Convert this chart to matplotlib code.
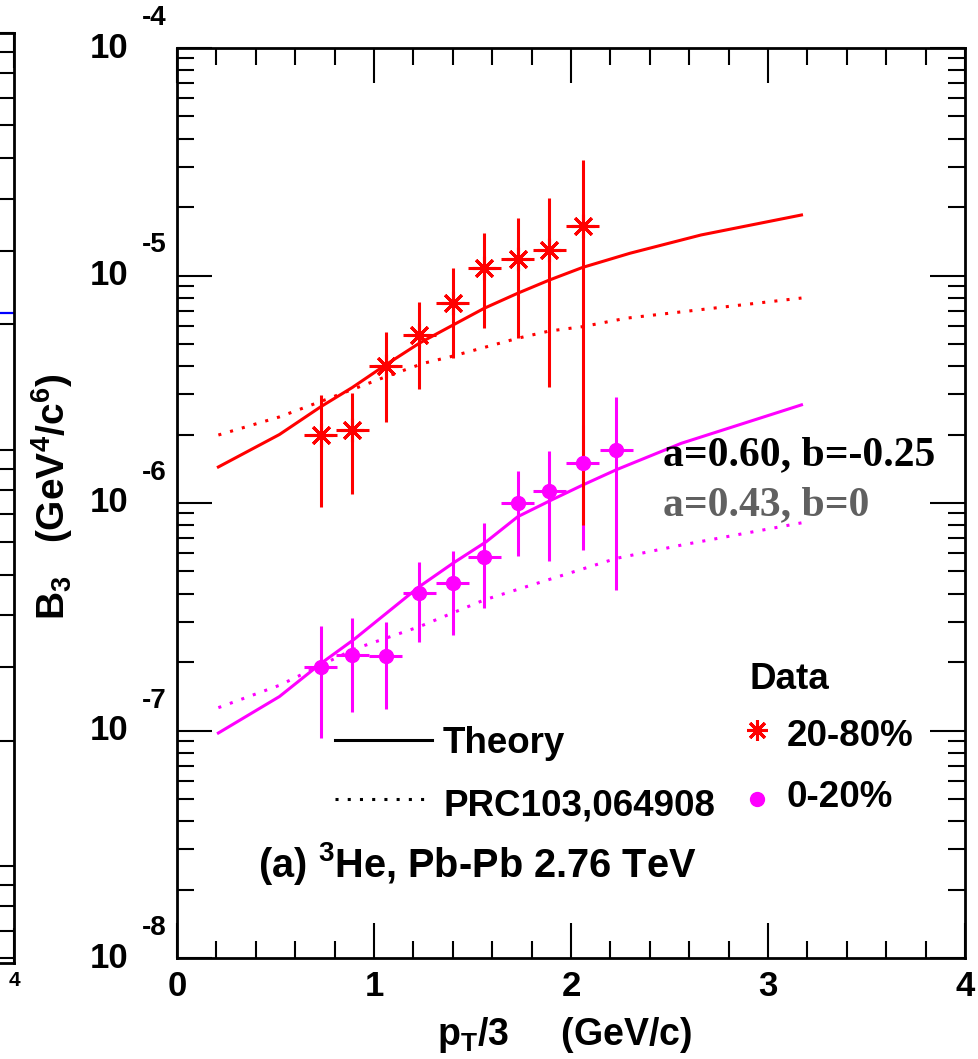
import numpy as np
import matplotlib
matplotlib.use('Agg')
import matplotlib.pyplot as plt
from matplotlib.ticker import MultipleLocator, LogLocator, NullFormatter
from matplotlib import rc

rc('mathtext', default='regular')
plt.rcParams['font.family'] = ['Liberation Sans', 'DejaVu Sans']
plt.rcParams['font.weight'] = 'bold'

# B3 data, 20-80% centrality
pt_red = [0.73, 0.89, 1.06, 1.23, 1.40, 1.56, 1.73, 1.89, 2.06]
b3_red = [1.99e-6, 2.09e-6, 4.0e-6, 5.47e-6, 7.57e-6, 1.08e-5, 1.18e-5, 1.29e-5, 1.65e-5]
b3_red_hi = [2.98e-6, 3.04e-6, 5.65e-6, 7.66e-6, 1.08e-5, 1.54e-5, 1.79e-5, 2.19e-5, 3.22e-5]
b3_red_lo = [9.6e-7, 1.10e-6, 2.27e-6, 3.17e-6, 4.34e-6, 5.87e-6, 5.31e-6, 3.24e-6, 8.0e-7]

# B3 data, 0-20% centrality
pt_mag = [0.73, 0.89, 1.06, 1.23, 1.40, 1.56, 1.73, 1.89, 2.06, 2.23]
b3_mag = [1.91e-7, 2.15e-7, 2.12e-7, 4.04e-7, 4.44e-7, 5.77e-7, 9.97e-7, 1.13e-6, 1.50e-6, 1.71e-6]
b3_mag_hi = [2.88e-7, 3.13e-7, 3.0e-7, 5.51e-7, 6.15e-7, 8.16e-7, 1.38e-6, 1.69e-6, 2.2e-6, 2.92e-6]
b3_mag_lo = [9.27e-8, 1.20e-7, 1.24e-7, 2.45e-7, 2.63e-7, 3.45e-7, 5.85e-7, 5.56e-7, 6.2e-7, 4.15e-7]
pt_halfbin = 0.083

# theory (a=0.60, b=-0.25) and PRC103,064908 curves
th_red_x = [0.21, 0.52, 0.73, 0.89, 1.06, 1.23, 1.40, 1.56, 1.73, 1.89, 2.06, 2.30, 2.66, 3.17]
th_red = [1.44e-6, 2.0e-6, 2.65e-6, 3.22e-6, 4.05e-6, 5.04e-6, 6.05e-6, 7.18e-6, 8.36e-6,
          9.55e-6, 1.086e-5, 1.253e-5, 1.507e-5, 1.845e-5]
prc_red_x = [0.21, 0.52, 0.77, 1.06, 1.25, 1.39, 1.73, 1.89, 2.06, 2.28, 3.17]
prc_red = [1.99e-6, 2.39e-6, 2.88e-6, 3.59e-6, 4.11e-6, 4.40e-6, 5.30e-6, 5.70e-6, 5.96e-6, 6.49e-6, 7.96e-6]

th_mag_x = [0.21, 0.52, 0.73, 0.90, 1.23, 1.40, 1.57, 1.73, 1.90, 2.06, 2.23, 2.56, 3.17]
th_mag = [9.75e-8, 1.41e-7, 1.97e-7, 2.52e-7, 4.29e-7, 5.43e-7, 6.76e-7, 8.71e-7, 1.03e-6,
          1.20e-6, 1.40e-6, 1.83e-6, 2.70e-6]
prc_mag_x = [0.21, 0.52, 0.90, 1.23, 1.56, 2.23, 2.56, 3.17]
prc_mag = [1.26e-7, 1.58e-7, 2.28e-7, 2.86e-7, 3.75e-7, 5.71e-7, 6.53e-7, 8.18e-7]

# edge of the neighbouring panel
nb_x = [3.7, 4.0]
nb_y = [0.213, 0.213]

red = '#ff0000'
mag = '#ff00ff'
dotted = (0, (1, 3))
fnt = 25
lfnt = 26.5

W, H = 979, 1059
fig = plt.figure(figsize=(W/100, H/100), dpi=100)
fig.patch.set_facecolor('white')


def style_axes(a, lsize):
    a.tick_params(which='both', direction='in', top=True, right=True, width=1.5,
                  labelsize=lsize)
    a.tick_params(which='major', length=25)
    a.tick_params(which='minor', length=12)
    for s in a.spines.values():
        s.set_linewidth(2)
    a.xaxis.set_major_locator(MultipleLocator(1))
    a.xaxis.set_minor_locator(MultipleLocator(0.2))
    a.yaxis.set_minor_locator(LogLocator(base=10, subs=np.arange(2, 10)))
    a.yaxis.set_minor_formatter(NullFormatter())


# neighbouring panel, mostly outside the figure
ax0 = fig.add_axes([(14 - 788)/W, 1 - 963/H, 788/W, 930/H])
ax0.set_yscale('log')
ax0.set_xlim(0, 4)
ax0.set_ylim(5.85e-3, 1)
ax0.plot(nb_x, nb_y, color='blue', lw=1.6)
style_axes(ax0, 15)
ax0.set_xticks([0, 1, 2, 3, 4], labels=['', '', '', '', '4'])
ax0.tick_params(labelleft=False)
ax0.tick_params(axis='x', pad=6)

ax = fig.add_axes([177/W, 1 - 958/H, 788/W, 910/H])
ax.set_yscale('log')
ax.set_xlim(0, 4)
ax.set_ylim(1e-8, 1e-4)
style_axes(ax, fnt)
ax.tick_params(axis='x', pad=9)
ax.yaxis.set_major_formatter(NullFormatter())

ax.plot(th_red_x, th_red, color=red, lw=2.2, zorder=1)
ax.plot(prc_red_x, prc_red, color=red, lw=2.2, ls=dotted, zorder=1)
ax.plot(th_mag_x, th_mag, color=mag, lw=2.2, zorder=1)
ax.plot(prc_mag_x, prc_mag, color=mag, lw=2.2, ls=dotted, zorder=1)

mag_err = [np.array(b3_mag) - np.array(b3_mag_lo), np.array(b3_mag_hi) - np.array(b3_mag)]
red_err = [np.array(b3_red) - np.array(b3_red_lo), np.array(b3_red_hi) - np.array(b3_red)]
ax.errorbar(pt_mag, b3_mag, yerr=mag_err, xerr=pt_halfbin, fmt='none', ecolor=mag,
            elinewidth=2.2, capsize=0, zorder=2)
ax.errorbar(pt_red, b3_red, yerr=red_err, xerr=pt_halfbin, fmt='none', ecolor=red,
            elinewidth=2.2, capsize=0, zorder=3)
ax.plot(pt_red, b3_red, ls='none', marker=(8, 2, 0), ms=17, mew=2.2, color=red, zorder=4)
ax.plot(pt_mag, b3_mag, ls='none', marker='o', ms=10, color=mag, mec=mag, zorder=5)

# ROOT style decade labels
for k in range(-8, -3):
    ax.annotate('10', xy=(0, 10.0**k), xycoords=('axes fraction', 'data'),
                xytext=(-49, 0), textcoords='offset pixels', ha='right', va='center',
                fontsize=fnt)
    ax.annotate(str(k), xy=(0, 10.0**k), xycoords=('axes fraction', 'data'),
                xytext=(-35, 30), textcoords='offset pixels', ha='left', va='center',
                fontsize=20)

fig.text(52/W, 1 - 497/H, r'B$_3$   (GeV$^4$/c$^6$)', rotation=90, ha='center',
         va='center', fontsize=28)
fig.text(565/W, 1 - 1045/H, r'p$_T$/3     (GeV/c)', ha='center', va='baseline',
         fontsize=27)

# legends
tr = ax.transAxes
ax.plot([0.2005, 0.3236], [0.2396, 0.2396], transform=tr, color='k', lw=2.2)
ax.plot([0.2005, 0.3236], [0.1747, 0.1747], transform=tr, color='k', lw=2.2, ls=dotted)
ax.text(0.3376, 0.2253, 'Theory', transform=tr, fontsize=lfnt, va='baseline')
ax.text(0.3376, 0.1571, 'PRC103,064908', transform=tr, fontsize=lfnt, va='baseline')
ax.text(0.1028, 0.0890, r'(a) $^3$He, Pb-Pb 2.76 TeV', transform=tr, fontsize=28.6,
        va='baseline')

ax.text(0.7259, 0.2956, 'Data', transform=tr, fontsize=lfnt, va='baseline')
ax.plot([0.7360], [0.2505], transform=tr, ls='none', marker=(8, 2, 0), ms=15, mew=2.2,
        color=red)
ax.plot([0.7360], [0.1747], transform=tr, ls='none', marker='o', ms=10, color=mag)
ax.text(0.7741, 0.2330, '20-80%', transform=tr, fontsize=lfnt, va='baseline')
ax.text(0.7741, 0.1659, '0-20%', transform=tr, fontsize=lfnt, va='baseline')

ax.text(0.6168, 0.5418, 'a=0.60, b=-0.25', transform=tr, fontsize=30, va='baseline',
        family=['Liberation Serif'], color='black')
ax.text(0.6168, 0.4868, 'a=0.43, b=0', transform=tr, fontsize=30, va='baseline',
        family=['Liberation Serif'], color='#606060')

fig.savefig('out.png', dpi=100)
